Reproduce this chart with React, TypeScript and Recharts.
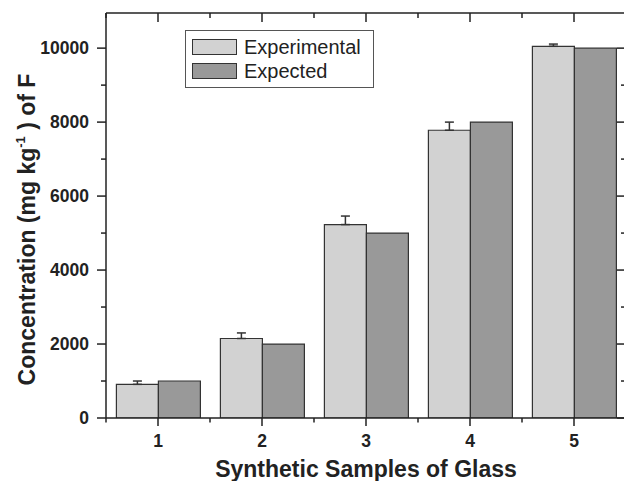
import { BarChart, Bar, XAxis, YAxis, Legend, ErrorBar } from 'recharts';

const samples = ['1', '2', '3', '4', '5'];
const experimental = [910, 2150, 5230, 7780, 10050];
const expected = [1000, 2000, 5000, 8000, 10000];
const experimentalErr = [90, 150, 230, 220, 60];
const yTicks = [0, 1000, 2000, 3000, 4000, 5000, 6000, 7000, 8000, 9000, 10000];
const seriesNames = ['Experimental', 'Expected'];

const data = samples.map((s, i) => ({
    sample: s,
    experimental: experimental[i],
    expected: expected[i],
    err: [0, experimentalErr[i]],
}));

const FONT = '"Liberation Sans", Arial, Helvetica, sans-serif';
const INK = '#222';

function BottomTick(props: any) {
    const { x, y, payload, index } = props;
    const half = payload.offset || 0;
    return (
        <g>
            <line x1={x} y1={y} x2={x} y2={y + 8} stroke={INK} strokeWidth={1.5} />
            {index === 0 && (
                <line x1={x - half} y1={y} x2={x - half} y2={y + 4.5} stroke={INK} strokeWidth={1.5} />
            )}
            <line x1={x + half} y1={y} x2={x + half} y2={y + 4.5} stroke={INK} strokeWidth={1.5} />
            <text x={x} y={y + 29} textAnchor="middle" fontFamily={FONT} fontWeight="bold" fontSize={17.5} fill={INK}>
                {payload.value}
            </text>
        </g>
    );
}

function TopTick(props: any) {
    const { x, y, payload, index } = props;
    const half = payload.offset || 0;
    return (
        <g>
            <line x1={x} y1={y} x2={x} y2={y + 9} stroke={INK} strokeWidth={1.5} />
            {index === 0 && (
                <line x1={x - half} y1={y} x2={x - half} y2={y + 5} stroke={INK} strokeWidth={1.5} />
            )}
            <line x1={x + half} y1={y} x2={x + half} y2={y + 5} stroke={INK} strokeWidth={1.5} />
        </g>
    );
}

function LeftTick(props: any) {
    const { x, y, payload } = props;
    const major = payload.value % 2000 === 0;
    return (
        <g>
            <line x1={x - (major ? 9 : 5)} y1={y} x2={x} y2={y} stroke={INK} strokeWidth={1.5} />
            {major && (
                <text x={x - 17} y={y} dy="0.35em" textAnchor="end" fontFamily={FONT} fontWeight="bold" fontSize={17.5} fill={INK}>
                    {payload.value}
                </text>
            )}
        </g>
    );
}

function RightTick(props: any) {
    const { x, y, payload } = props;
    const major = payload.value % 2000 === 0;
    return <line x1={x - (major ? 9 : 5)} y1={y} x2={x} y2={y} stroke={INK} strokeWidth={1.5} />;
}

function YLabel(props: any) {
    const vb = props.viewBox || { x: 0, y: 0, width: 0, height: 0 };
    const cx = vb.x + 27;
    const cy = vb.y + vb.height / 2 + 14;
    return (
        <text
            x={cx}
            y={cy}
            dy="0.35em"
            transform={`rotate(-90, ${cx}, ${cy})`}
            textAnchor="middle"
            fontFamily={FONT}
            fontWeight="bold"
            fontSize={23}
            fill={INK}
        >
            Concentration (mg kg
            <tspan dy={-10} fontSize={13}>-1</tspan>
            <tspan dy={10}> ) of F</tspan>
        </text>
    );
}

function LegendBox(props: any) {
    const items = [...(props.payload || [])].sort(
        (a: any, b: any) => seriesNames.indexOf(a.value) - seriesNames.indexOf(b.value)
    );
    return (
        <div
            style={{
                width: 189,
                height: 58,
                boxSizing: 'border-box',
                border: '1px solid #555',
                background: '#fff',
                paddingTop: 4,
                fontFamily: FONT,
            }}
        >
            {items.map((entry: any) => (
                <div key={entry.value} style={{ display: 'flex', alignItems: 'center', height: 24 }}>
                    <span
                        style={{
                            display: 'inline-block',
                            marginLeft: 6,
                            width: 45,
                            height: 16,
                            boxSizing: 'border-box',
                            border: '1.5px solid #333',
                            background: entry.color,
                        }}
                    />
                    <span style={{ marginLeft: 7, fontSize: 20, color: INK }}>{entry.value}</span>
                </div>
            ))}
        </div>
    );
}

export default function App() {
    return (
        <div style={{ position: 'absolute', left: 0, top: 0, width: 624, height: 481, overflow: 'hidden', background: '#fff' }}>
            <BarChart
                width={630}
                height={481}
                data={data}
                margin={{ top: 12, right: 3, bottom: 0, left: 0 }}
                barCategoryGap="10%"
                barGap={0}
            >
                <XAxis
                    dataKey="sample"
                    height={63}
                    interval={0}
                    tickSize={0}
                    tickMargin={0}
                    tick={<BottomTick />}
                    tickLine={false}
                    axisLine={{ stroke: INK, strokeWidth: 1.5 }}
                    label={{
                        value: 'Synthetic Samples of Glass',
                        position: 'insideBottom',
                        offset: 4,
                        fontFamily: FONT,
                        fontWeight: 'bold',
                        fontSize: 23,
                        fill: INK,
                    }}
                />
                <XAxis
                    xAxisId="top"
                    dataKey="sample"
                    orientation="top"
                    height={1}
                    interval={0}
                    tickSize={0}
                    tickMargin={0}
                    tick={<TopTick />}
                    tickLine={false}
                    axisLine={{ stroke: INK, strokeWidth: 1.5 }}
                />
                <YAxis
                    type="number"
                    domain={[0, 10950]}
                    allowDataOverflow
                    ticks={yTicks}
                    interval={0}
                    width={106}
                    tickSize={0}
                    tickMargin={0}
                    tick={<LeftTick />}
                    tickLine={false}
                    axisLine={{ stroke: INK, strokeWidth: 1.5 }}
                    label={{ content: (p: any) => <YLabel viewBox={p.viewBox} /> }}
                />
                <YAxis
                    yAxisId="right"
                    orientation="right"
                    type="number"
                    domain={[0, 10950]}
                    allowDataOverflow
                    ticks={yTicks}
                    interval={0}
                    width={1}
                    tickSize={0}
                    tickMargin={0}
                    tick={<RightTick />}
                    tickLine={false}
                    axisLine={{ stroke: INK, strokeWidth: 1.5 }}
                />
                <Legend
                    layout="vertical"
                    align="center"
                    verticalAlign="middle"
                    content={<LegendBox />}
                    wrapperStyle={{ left: 185, top: 30, width: 189, height: 58 }}
                />
                <Bar
                    dataKey="experimental"
                    name="Experimental"
                    fill="#d2d2d2"
                    stroke="#333"
                    strokeWidth={1.2}
                    isAnimationActive={false}
                >
                    <ErrorBar dataKey="err" width={4.5} stroke="#333" strokeWidth={1.5} direction="y" />
                </Bar>
                <Bar
                    dataKey="expected"
                    name="Expected"
                    fill="#999999"
                    stroke="#333"
                    strokeWidth={1.2}
                    isAnimationActive={false}
                />
            </BarChart>
        </div>
    );
}
